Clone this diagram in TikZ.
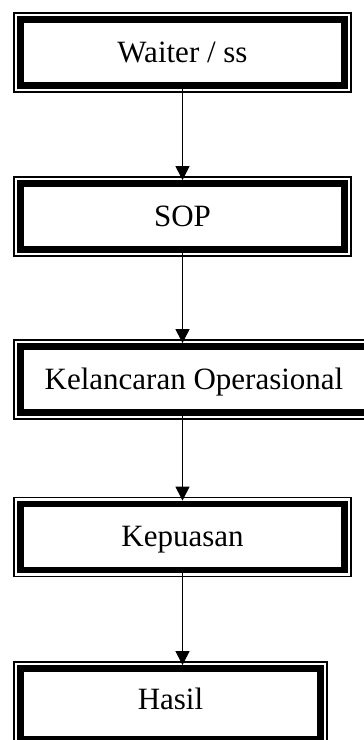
\documentclass[tikz,border=0pt]{standalone}
\usepackage{fontspec}
\setmainfont{Liberation Serif}
\usetikzlibrary{arrows.meta, positioning}
\tikzset{
  flowbox/.style={
    draw, fill=white, line width=6.8bp, align=center,
    font=\fontsize{31bp}{37bp}\selectfont,
    minimum width=324.4bp, minimum height=66bp,
    text height=19.2bp, text depth=0pt, inner sep=0pt,
    preaction={draw, line width=14.6bp},
    preaction={draw, white, line width=11.2bp}
  },
  flowarrow/.style={
    -{Triangle[length=14bp, width=14bp]}, line width=1bp
  },
}
\begin{document}
\begin{tikzpicture}[x=1bp, y=-1bp]
  \useasboundingbox (0,0) rectangle (363,740);

  % Boxes
  \node[flowbox] (waiter) at (182.5,52.5) {Waiter / ss};
  \node[flowbox] (sop) at (182.5,216.5) {SOP};
  \node[flowbox, minimum width=347.4bp] (lancar) at (194,379.5)
    {Kelancaran Operasional};
  \node[flowbox] (puas) at (182.5,537) {Kepuasan};
  \node[flowbox, minimum width=300.4bp, minimum height=71bp,
    text depth=8.7bp] (hasil) at (170.5,704) {Hasil};

  % Arrows
  \draw[flowarrow] (waiter) -- (sop);
  \draw[flowarrow] (sop.south) -- (sop.south |- lancar.north);
  \draw[flowarrow] (lancar.south -| puas.north) -- (puas.north);
  \draw[flowarrow] (puas.south) -- (puas.south |- hasil.north);
\end{tikzpicture}
\end{document}
